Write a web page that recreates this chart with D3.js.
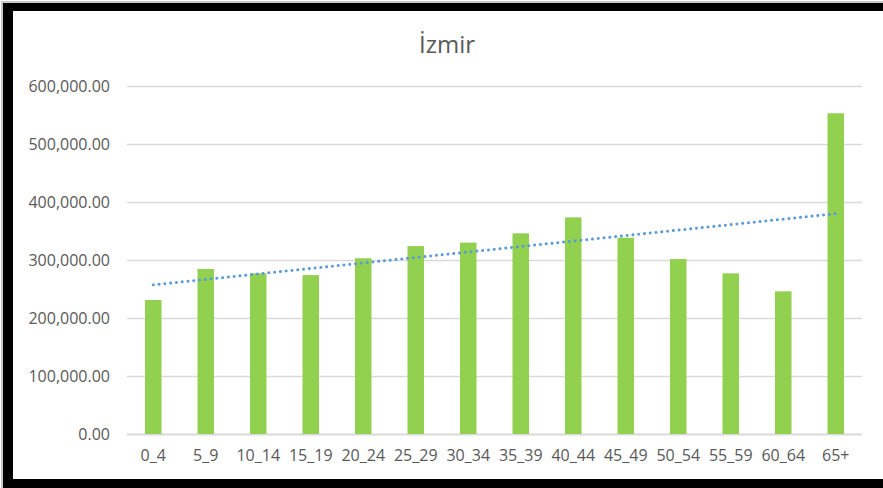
<!DOCTYPE html>
<html>
<head>
<meta charset="utf-8">
<script src="https://cdn.jsdelivr.net/npm/d3@7"></script>
<style>
  html, body { margin: 0; padding: 0; background: #fff; }
  svg { display: block; }
</style>
</head>
<body>
<svg id="chart" width="883" height="488"></svg>
<script>
const title = 'İzmir';
const ageGroups = ['0_4', '5_9', '10_14', '15_19', '20_24', '25_29', '30_34',
  '35_39', '40_44', '45_49', '50_54', '55_59', '60_64', '65+'];
const population = [231000, 284500, 277000, 274000, 303000, 324000, 330000,
  346000, 373500, 338500, 301700, 277000, 246000, 553000];
const yTickValues = [0, 100000, 200000, 300000, 400000, 500000, 600000];

const width = 883;
const height = 488;
const margin = { top: 86, right: 21, bottom: 54, left: 127 };
const font = '"Open Sans", "Noto Sans", sans-serif';
const textColor = '#595959';
const gridColor = '#d9d9d9';

const svg = d3.select('#chart');

// frame around the chart (black on left, top, bottom)
svg.append('rect').attr('x', 1).attr('y', 1).attr('width', width - 1).attr('height', 2).attr('fill', '#c8c8c8');
svg.append('rect').attr('x', 1).attr('y', 1).attr('width', 2).attr('height', height - 1).attr('fill', '#c8c8c8');
svg.append('rect').attr('x', 3).attr('y', 3).attr('width', 10).attr('height', height - 3).attr('fill', '#000');
svg.append('rect').attr('x', 3).attr('y', 3).attr('width', width - 3).attr('height', 8).attr('fill', '#000');
svg.append('rect').attr('x', 3).attr('y', 479).attr('width', width - 3).attr('height', 9).attr('fill', '#000');

const x = d3
  .scaleBand()
  .domain(ageGroups)
  .range([margin.left, width - margin.right])
  .paddingInner(0.686)
  .paddingOuter(0.343);

const y = d3
  .scaleLinear()
  .domain([0, 600000])
  .range([height - margin.bottom, margin.top]);

// gridlines
svg
  .append('g')
  .selectAll('line')
  .data(yTickValues)
  .join('line')
  .attr('x1', margin.left)
  .attr('x2', width - margin.right)
  .attr('y1', (d) => Math.round(y(d)) + 0.5)
  .attr('y2', (d) => Math.round(y(d)) + 0.5)
  .attr('stroke', gridColor)
  .attr('stroke-width', (d) => (d === 0 ? 2 : 1.6));

// y axis labels
const yAxis = (g) =>
  g
    .attr('transform', `translate(${margin.left},0)`)
    .call(d3.axisLeft(y).tickValues(yTickValues).tickFormat(d3.format(',.2f')).tickSize(0).tickPadding(17))
    .call((g) => g.select('.domain').remove())
    .call((g) =>
      g
        .selectAll('text')
        .attr('font-family', font)
        .attr('font-size', '16px')
        .attr('fill', textColor)
    );

// x axis labels
const xAxis = (g) =>
  g
    .attr('transform', `translate(0,${height - margin.bottom})`)
    .call(d3.axisBottom(x).tickSize(0).tickPadding(16))
    .call((g) => g.select('.domain').remove())
    .call((g) =>
      g
        .selectAll('text')
        .attr('font-family', font)
        .attr('font-size', '16px')
        .attr('fill', textColor)
    );

svg.append('g').call(yAxis);
svg.append('g').call(xAxis);

// bars
svg
  .append('g')
  .selectAll('rect')
  .data(population)
  .join('rect')
  .attr('fill', '#92d050')
  .attr('x', (d, i) => x(ageGroups[i]))
  .attr('y', (d) => y(d))
  .attr('width', x.bandwidth())
  .attr('height', (d) => y(0) - y(d));

// linear trendline (least squares over category index)
const n = population.length;
const xs = d3.range(1, n + 1);
const mx = d3.mean(xs);
const my = d3.mean(population);
const slope =
  d3.sum(xs, (v, i) => (v - mx) * (population[i] - my)) /
  d3.sum(xs, (v) => (v - mx) * (v - mx));
const intercept = my - slope * mx;
const trend = [xs[0], xs[n - 1]].map((v) => ({
  cat: ageGroups[v - 1],
  value: intercept + slope * v,
}));

svg
  .append('path')
  .datum(trend)
  .attr('fill', 'none')
  .attr('stroke', '#5b9bd5')
  .attr('stroke-width', 3)
  .attr('stroke-linecap', 'round')
  .attr('stroke-dasharray', '0.01 5.8')
  .attr(
    'd',
    d3
      .line()
      .x((d) => x(d.cat) + x.bandwidth() / 2)
      .y((d) => y(d.value))
  );

// title
svg
  .append('text')
  .attr('x', 447)
  .attr('y', 53)
  .attr('text-anchor', 'middle')
  .attr('font-family', font)
  .attr('font-size', '24px')
  .attr('fill', textColor)
  .text(title);
</script>
</body>
</html>
